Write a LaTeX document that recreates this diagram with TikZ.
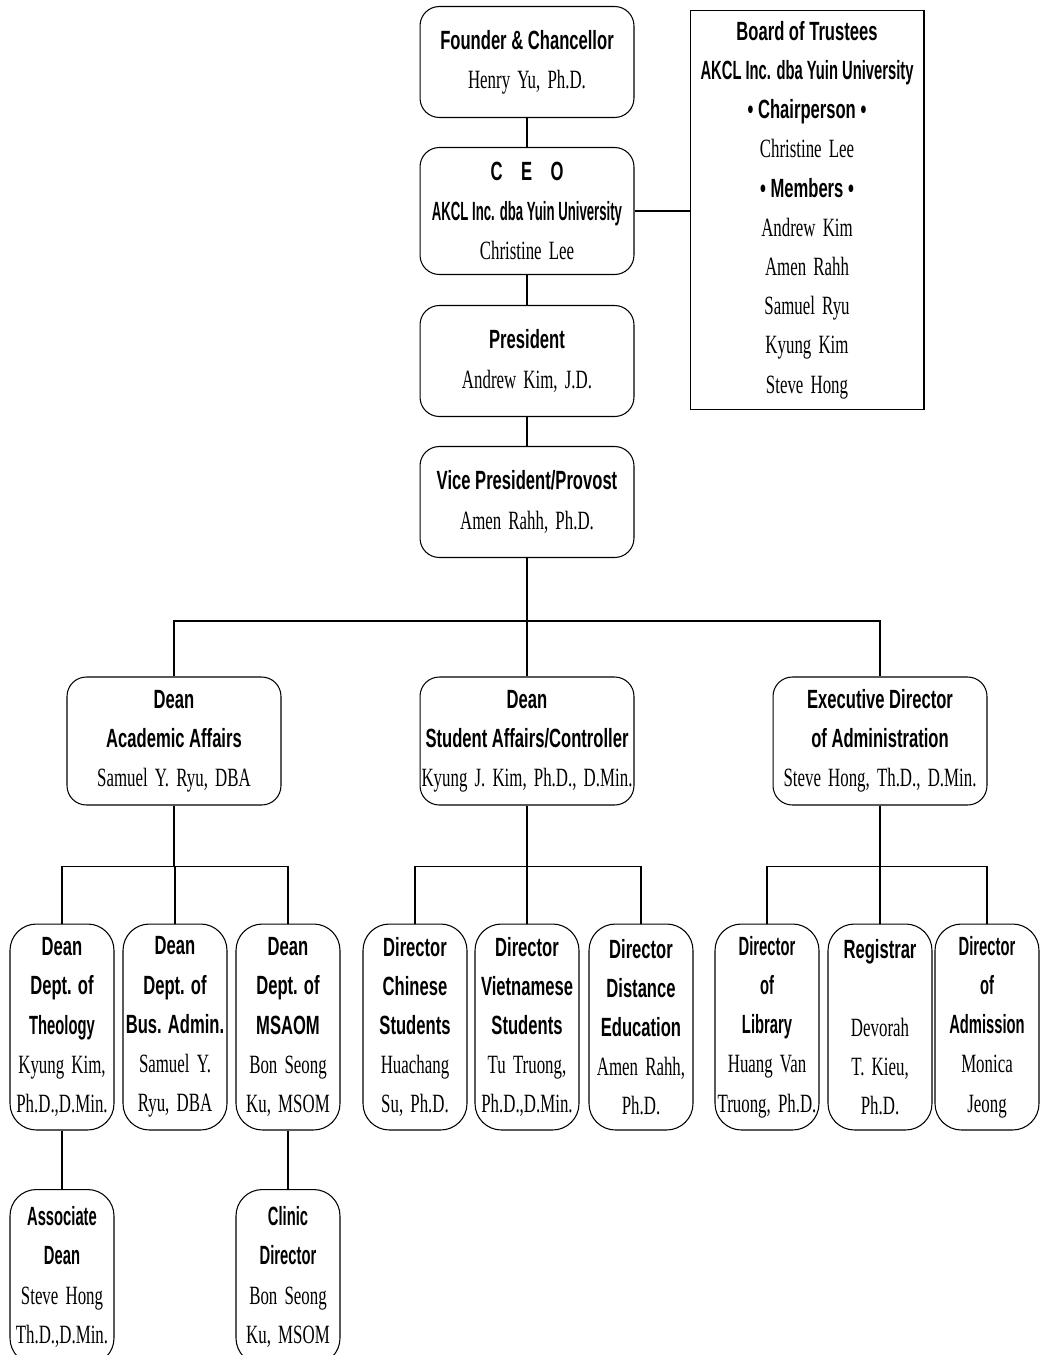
\documentclass[tikz,border=0pt]{standalone}
\usepackage{fontspec}
\setmainfont{Liberation Serif}[FakeStretch=0.64, WordSpace=1.7]
\newfontfamily\hdfont{Liberation Sans}[FakeStretch=0.63]
\newfontfamily\hdcond{Liberation Sans}[FakeStretch=0.5]
\newfontfamily\hdsemi{Liberation Sans}[FakeStretch=0.56]
\newcommand{\hdln}[1]{{\hdfont\bfseries #1}}
\newcommand{\hdnarrow}[1]{{\hdcond\bfseries #1}}
\newcommand{\hdsemiln}[1]{{\hdsemi\bfseries #1}}
\tikzset{
  unit/.style={draw, line width=0.6pt, align=center, inner sep=0pt,
    font=\fontsize{15}{22.3}\selectfont},
  topbox/.style={unit, rounded corners=11pt, minimum width=4.28cm, minimum height=2.22cm},
  ceobox/.style={topbox, minimum height=2.54cm},
  deanbox/.style={unit, rounded corners=11pt, minimum width=4.28cm, minimum height=2.56cm},
  deptbox/.style={unit, rounded corners=15pt, minimum width=2.08cm, minimum height=4.12cm},
  subbox/.style={deptbox, minimum height=3.5cm},
  boardbox/.style={unit, minimum width=4.68cm, minimum height=8cm},
  link/.style={line width=0.7pt}
}
\begin{document}
\begin{tikzpicture}[x=0.02cm, y=-0.02cm]
  \useasboundingbox (0,0) rectangle (1039,1355);
  % top chain
  \node[topbox] (founder) at (527,62) {\hdln{Founder \& Chancellor}\\ Henry Yu, Ph.D.};
  \node[ceobox] (ceo) at (527,211) {\hdln{C\hspace{0.7em}E\hspace{0.7em}O}\\ \hdnarrow{AKCL Inc. dba Yuin University}\\ Christine Lee};
  \node[topbox] (pres) at (527,361) {\hdln{President}\\ Andrew Kim, J.D.};
  \node[topbox] (vp) at (527,502) {\hdln{Vice President/Provost}\\ Amen Rahh, Ph.D.};
  \node[boardbox] (board) at (807,210) {\hdln{Board of Trustees}\\ \hdsemiln{AKCL Inc. dba Yuin University}\\
    \hdln{\textbullet\ Chairperson \textbullet}\\ Christine Lee\\ \hdln{\textbullet\ Members \textbullet}\\
    Andrew Kim\\ Amen Rahh\\ Samuel Ryu\\ Kyung Kim\\ Steve Hong};
  % deans
  \node[deanbox] (acad) at (174,741) {\hdln{Dean}\\ \hdln{Academic Affairs}\\ Samuel Y. Ryu, DBA};
  \node[deanbox] (stud) at (527,741) {\hdln{Dean}\\ \hdln{Student Affairs/Controller}\\ Kyung J. Kim, Ph.D., D.Min.};
  \node[deanbox] (exec) at (880,741) {\hdln{Executive Director}\\ \hdln{of Administration}\\ Steve Hong, Th.D., D.Min.};
  % departments
  \node[deptbox] (theo) at (62,1027) {\hdln{Dean}\\ \hdln{Dept. of}\\ \hdsemiln{Theology}\\ Kyung Kim,\\ Ph.D.,D.Min.};
  \node[deptbox] (bus) at (175,1027) {\hdln{Dean}\\ \hdln{Dept. of}\\ \hdln{Bus. Admin.}\\ Samuel Y.\\ Ryu, DBA};
  \node[deptbox] (msaom) at (288,1027) {\hdln{Dean}\\ \hdln{Dept. of}\\ \hdln{MSAOM}\\ Bon Seong\\ Ku, MSOM};
  \node[deptbox] (chin) at (415,1027) {\hdln{Director}\\ \hdln{Chinese}\\ \hdln{Students}\\ Huachang\\ Su, Ph.D.};
  \node[deptbox] (viet) at (527,1027) {\hdln{Director}\\ \hdln{Vietnamese}\\ \hdln{Students}\\ Tu Truong,\\ Ph.D.,D.Min.};
  \node[deptbox] (dist) at (641,1027) {\hdln{Director}\\ \hdln{Distance}\\ \hdln{Education}\\ Amen Rahh,\\ Ph.D.};
  \node[deptbox] (lib) at (767,1027) {\hdsemiln{Director}\\ \hdsemiln{of}\\ \hdsemiln{Library}\\ Huang Van\\ Truong, Ph.D.};
  \node[deptbox] (reg) at (880,1027) {\hdln{Registrar}\\ \strut\\ Devorah\\ T. Kieu,\\ Ph.D.};
  \node[deptbox] (adm) at (987,1027) {\hdsemiln{Director}\\ \hdsemiln{of}\\ \hdsemiln{Admission}\\ Monica\\ Jeong};
  % bottom row
  \node[subbox] (assoc) at (62,1277) {\hdsemiln{Associate}\\ \hdsemiln{Dean}\\ Steve Hong\\ Th.D.,D.Min.};
  \node[subbox] (clinic) at (288,1277) {\hdsemiln{Clinic}\\ \hdsemiln{Director}\\ Bon Seong\\ Ku, MSOM};
  % connectors
  \draw[link] (founder) -- (ceo);
  \draw[link] (ceo) -- (pres);
  \draw[link] (pres) -- (vp);
  \draw[link] (ceo.east) -- (ceo.east -| board.west);
  \foreach \d in {acad,stud,exec}
    \draw[link] (vp.south) -- ++(0,63) -| (\d.north);
  \foreach \d in {theo,bus,msaom}
    \draw[link] (acad.south) -- ++(0,61) -| (\d.north);
  \foreach \d in {chin,viet,dist}
    \draw[link] (stud.south) -- ++(0,61) -| (\d.north);
  \foreach \d in {lib,reg,adm}
    \draw[link] (exec.south) -- ++(0,61) -| (\d.north);
  \draw[link] (theo) -- (assoc);
  \draw[link] (msaom) -- (clinic);
\end{tikzpicture}
\end{document}
